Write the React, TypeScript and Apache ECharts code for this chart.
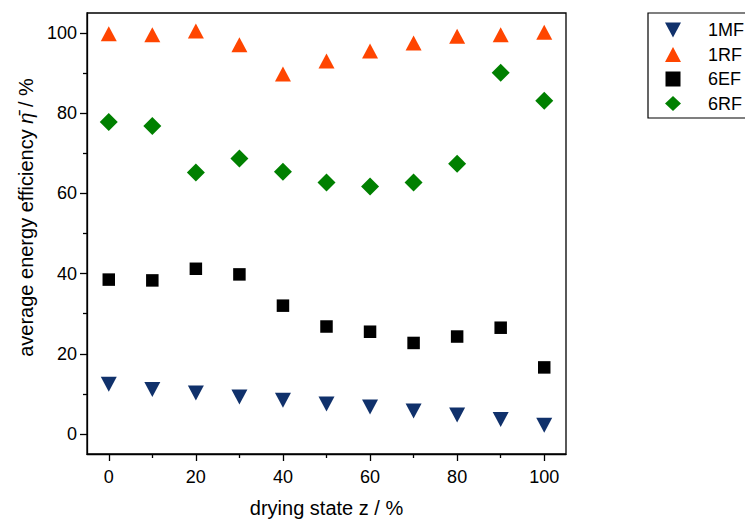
import React, { useEffect, useRef } from "react";
import * as echarts from "echarts";

const dryingState = [0, 10, 20, 30, 40, 50, 60, 70, 80, 90, 100];
const mf1 = [12.4, 11.1, 10.2, 9.2, 8.4, 7.5, 6.7, 5.7, 4.7, 3.6, 2.2];
const rf1 = [99.8, 99.6, 100.5, 97.1, 89.8, 93.0, 95.5, 97.5, 99.2, 99.6, 100.2];
const ef6 = [38.5, 38.3, 41.2, 39.8, 32.0, 26.8, 25.5, 22.7, 24.3, 26.5, 16.6];
const rf6 = [77.8, 76.8, 65.2, 68.7, 65.4, 62.7, 61.7, 62.7, 67.4, 90.1, 83.1];
const majorTicks = [0, 20, 40, 60, 80, 100];
const minorTicks = [10, 30, 50, 70, 90];
const seriesNames = ["1MF", "1RF", "6EF", "6RF"];

const FONT = "Liberation Sans, Arial, sans-serif";

export default function App() {
  const ref = useRef<HTMLDivElement>(null);
  useEffect(() => {
    if (!ref.current) return;
    const chart = echarts.init(ref.current, undefined, { renderer: "svg" });
    const pts = (ys: number[]) => dryingState.map((x, i) => [x, ys[i]]);
    const baseAxis = {
      type: "value" as const,
      min: -5,
      max: 105,
      splitLine: { show: false },
    };
    chart.setOption({
      animation: false,
      backgroundColor: "#fff",
      textStyle: { fontFamily: FONT, color: "#000" },
      grid: {
        left: 87,
        right: 179,
        top: 13,
        bottom: 71,
        show: true,
        borderColor: "#000",
        borderWidth: 1.3,
      },
      graphic: [
        {
          type: "rect",
          shape: { x: 648, y: 13, width: 150, height: 105 },
          style: { fill: "none", stroke: "#000", lineWidth: 1.2 },
          silent: true,
        },
      ],
      legend: {
        orient: "vertical",
        left: 648,
        top: 13,
        padding: [8, 20, 6, 17],
        itemGap: 6.5,
        itemWidth: 16,
        itemHeight: 15,
        borderWidth: 0,
        data: [
          { name: "1MF", icon: "path://M0,0 L16,0 L8,15 Z" },
          { name: "1RF", icon: "triangle" },
          { name: "6EF", icon: "path://M2,2 L14,2 L14,14 L2,14 Z" },
          { name: "6RF", icon: "diamond" },
        ].map((d, i) => ({ ...d, name: seriesNames[i] })),
        textStyle: { fontSize: 18, color: "#000", fontFamily: FONT, padding: [0, 0, 0, 22] },
      },
      xAxis: [
        {
          ...baseAxis,
          position: "bottom",
          name: "drying state z / %",
          nameLocation: "middle",
          nameGap: 44,
          nameTextStyle: { fontSize: 20, color: "#000", fontFamily: FONT },
          axisLine: { show: true, onZero: false, lineStyle: { color: "#000", width: 1.3 } },
          axisTick: { show: true, length: 7, customValues: majorTicks, lineStyle: { color: "#000", width: 1.3 } },
          axisLabel: { show: true, margin: 14, customValues: majorTicks, fontSize: 18, color: "#000", fontFamily: FONT },
        },
        {
          ...baseAxis,
          position: "bottom",
          axisLine: { show: false, onZero: false },
          axisTick: { show: true, length: 4, customValues: minorTicks, lineStyle: { color: "#000", width: 1.3 } },
          axisLabel: { show: false },
        },
      ],
      yAxis: [
        {
          ...baseAxis,
          position: "left",
          name: "average energy efficiency {eta|η̄} / %",
          nameLocation: "middle",
          nameGap: 40,
          nameTextStyle: {
            fontSize: 20,
            color: "#000",
            fontFamily: FONT,
            padding: [0, 0, 0, 32],
            rich: { eta: { fontSize: 20, fontStyle: "italic", fontFamily: FONT, color: "#000" } },
          },
          axisLine: { show: true, onZero: false, lineStyle: { color: "#000", width: 1.3 } },
          axisTick: { show: true, length: 7, customValues: majorTicks, lineStyle: { color: "#000", width: 1.3 } },
          axisLabel: { show: true, margin: 10, customValues: majorTicks, fontSize: 18, color: "#000", fontFamily: FONT },
        },
        {
          ...baseAxis,
          position: "left",
          axisLine: { show: false, onZero: false },
          axisTick: { show: true, length: 4, customValues: minorTicks, lineStyle: { color: "#000", width: 1.3 } },
          axisLabel: { show: false },
        },
      ],
      series: [
        {
          name: "1MF",
          type: "scatter",
          data: pts(mf1),
          symbol: "triangle",
          symbolRotate: 180,
          symbolSize: [16, 15],
          itemStyle: { color: "#10316b", opacity: 1 },
        },
        {
          name: "1RF",
          type: "scatter",
          data: pts(rf1),
          symbol: "triangle",
          symbolSize: [16, 15],
          itemStyle: { color: "#ff4500", opacity: 1 },
        },
        {
          name: "6EF",
          type: "scatter",
          data: pts(ef6),
          symbol: "rect",
          symbolSize: 12.5,
          itemStyle: { color: "#000", opacity: 1 },
        },
        {
          name: "6RF",
          type: "scatter",
          data: pts(rf6),
          symbol: "diamond",
          symbolSize: 18,
          itemStyle: { color: "#008000", opacity: 1 },
        },
      ],
    });
    return () => chart.dispose();
  }, []);
  return <div ref={ref} style={{ width: 745, height: 525, position: "absolute", left: 0, top: 0 }} />;
}
